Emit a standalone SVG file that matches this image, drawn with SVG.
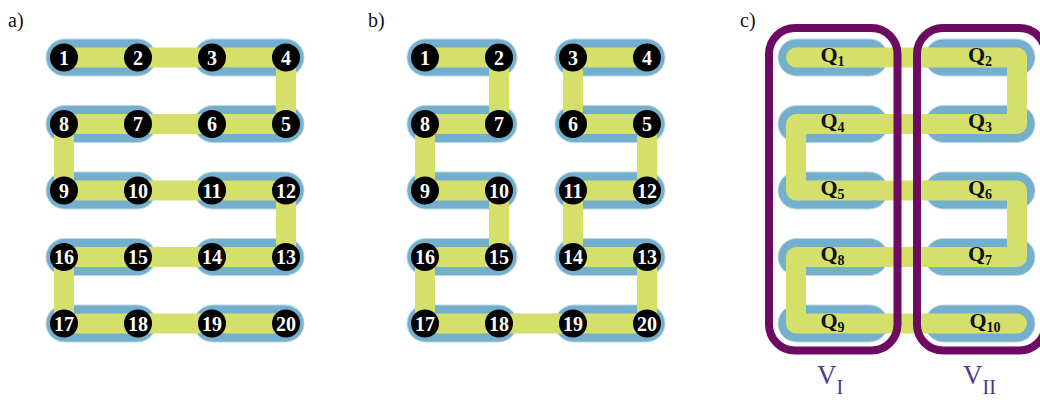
<svg xmlns="http://www.w3.org/2000/svg" width="1040" height="400" viewBox="0 0 1040 400">
<style>
.pill{fill:#75AFCE;stroke:#B9D7E6;stroke-width:1}
.path{fill:none;stroke:#D5E06A;stroke-width:20;stroke-linejoin:miter}
.pathc{fill:none;stroke:#D5E06A;stroke-width:20;stroke-linejoin:round;stroke-linecap:round}
.dot{fill:#000}
.num{font-family:"Liberation Serif",serif;font-weight:bold;font-size:20px;fill:#fff;text-anchor:middle}
.q{font-family:"Liberation Serif",serif;font-weight:bold;font-size:22px;fill:#111;text-anchor:middle}
.sub{font-size:14px}
.panel{font-family:"Liberation Serif",serif;font-size:20px;fill:#111}
.box{fill:none;stroke:#6D0A61;stroke-width:8}
.v{font-family:"Liberation Serif",serif;font-size:27px;fill:#4E3B92}
.vs{font-size:20px;fill:#55308A}
</style>
<defs>
<rect id="p" x="-18" y="-18.5" width="110" height="37" rx="18.5" class="pill"/>
<circle id="d" r="14" class="dot"/>
</defs>

<text class="panel" x="8" y="27">a)</text>
<text class="panel" x="368" y="27">b)</text>
<text class="panel" x="740" y="27">c)</text>

<!-- Panel a -->
<g id="panelA-pills">
<use href="#p" x="64" y="57.5"/><use href="#p" x="212" y="57.5"/>
<use href="#p" x="64" y="124"/><use href="#p" x="212" y="124"/>
<use href="#p" x="64" y="190.5"/><use href="#p" x="212" y="190.5"/>
<use href="#p" x="64" y="257"/><use href="#p" x="212" y="257"/>
<use href="#p" x="64" y="323.5"/><use href="#p" x="212" y="323.5"/>
</g>
<g id="connectors-a">
<path class="path" d="M64,57.5 H286 V124 H64 V190.5 H286 V257 H64 V323.5 H286"/>
</g>
<g id="nodes-a">
<g id="a1"><use href="#d" x="64" y="57.5"/><text class="num" x="64" y="64.5">1</text></g>
<g id="a2"><use href="#d" x="138" y="57.5"/><text class="num" x="138" y="64.5">2</text></g>
<g id="a3"><use href="#d" x="212" y="57.5"/><text class="num" x="212" y="64.5">3</text></g>
<g id="a4"><use href="#d" x="286" y="57.5"/><text class="num" x="286" y="64.5">4</text></g>
<g id="a8"><use href="#d" x="64" y="124"/><text class="num" x="64" y="131">8</text></g>
<g id="a7"><use href="#d" x="138" y="124"/><text class="num" x="138" y="131">7</text></g>
<g id="a6"><use href="#d" x="212" y="124"/><text class="num" x="212" y="131">6</text></g>
<g id="a5"><use href="#d" x="286" y="124"/><text class="num" x="286" y="131">5</text></g>
<g id="a9"><use href="#d" x="64" y="190.5"/><text class="num" x="64" y="197.5">9</text></g>
<g id="a10"><use href="#d" x="138" y="190.5"/><text class="num" x="138" y="197.5">10</text></g>
<g id="a11"><use href="#d" x="212" y="190.5"/><text class="num" x="212" y="197.5">11</text></g>
<g id="a12"><use href="#d" x="286" y="190.5"/><text class="num" x="286" y="197.5">12</text></g>
<g id="a16"><use href="#d" x="64" y="257"/><text class="num" x="64" y="264">16</text></g>
<g id="a15"><use href="#d" x="138" y="257"/><text class="num" x="138" y="264">15</text></g>
<g id="a14"><use href="#d" x="212" y="257"/><text class="num" x="212" y="264">14</text></g>
<g id="a13"><use href="#d" x="286" y="257"/><text class="num" x="286" y="264">13</text></g>
<g id="a17"><use href="#d" x="64" y="323.5"/><text class="num" x="64" y="330.5">17</text></g>
<g id="a18"><use href="#d" x="138" y="323.5"/><text class="num" x="138" y="330.5">18</text></g>
<g id="a19"><use href="#d" x="212" y="323.5"/><text class="num" x="212" y="330.5">19</text></g>
<g id="a20"><use href="#d" x="286" y="323.5"/><text class="num" x="286" y="330.5">20</text></g>
</g>

<!-- Panel b -->
<g id="panelB-pills">
<use href="#p" x="425" y="57.5"/><use href="#p" x="573" y="57.5"/>
<use href="#p" x="425" y="124"/><use href="#p" x="573" y="124"/>
<use href="#p" x="425" y="190.5"/><use href="#p" x="573" y="190.5"/>
<use href="#p" x="425" y="257"/><use href="#p" x="573" y="257"/>
<use href="#p" x="425" y="323.5"/><use href="#p" x="573" y="323.5"/>
</g>
<g id="connectors-b">
<path class="path" d="M425,57.5 H499 V124 H425 V190.5 H499 V257 H425 V323.5 H647 V257 H573 V190.5 H647 V124 H573 V57.5 H647"/>
</g>
<g id="nodes-b">
<g id="b1"><use href="#d" x="425" y="57.5"/><text class="num" x="425" y="64.5">1</text></g>
<g id="b2"><use href="#d" x="499" y="57.5"/><text class="num" x="499" y="64.5">2</text></g>
<g id="b3"><use href="#d" x="573" y="57.5"/><text class="num" x="573" y="64.5">3</text></g>
<g id="b4"><use href="#d" x="647" y="57.5"/><text class="num" x="647" y="64.5">4</text></g>
<g id="b8"><use href="#d" x="425" y="124"/><text class="num" x="425" y="131">8</text></g>
<g id="b7"><use href="#d" x="499" y="124"/><text class="num" x="499" y="131">7</text></g>
<g id="b6"><use href="#d" x="573" y="124"/><text class="num" x="573" y="131">6</text></g>
<g id="b5"><use href="#d" x="647" y="124"/><text class="num" x="647" y="131">5</text></g>
<g id="b9"><use href="#d" x="425" y="190.5"/><text class="num" x="425" y="197.5">9</text></g>
<g id="b10"><use href="#d" x="499" y="190.5"/><text class="num" x="499" y="197.5">10</text></g>
<g id="b11"><use href="#d" x="573" y="190.5"/><text class="num" x="573" y="197.5">11</text></g>
<g id="b12"><use href="#d" x="647" y="190.5"/><text class="num" x="647" y="197.5">12</text></g>
<g id="b16"><use href="#d" x="425" y="257"/><text class="num" x="425" y="264">16</text></g>
<g id="b15"><use href="#d" x="499" y="257"/><text class="num" x="499" y="264">15</text></g>
<g id="b14"><use href="#d" x="573" y="257"/><text class="num" x="573" y="264">14</text></g>
<g id="b13"><use href="#d" x="647" y="257"/><text class="num" x="647" y="264">13</text></g>
<g id="b17"><use href="#d" x="425" y="323.5"/><text class="num" x="425" y="330.5">17</text></g>
<g id="b18"><use href="#d" x="499" y="323.5"/><text class="num" x="499" y="330.5">18</text></g>
<g id="b19"><use href="#d" x="573" y="323.5"/><text class="num" x="573" y="330.5">19</text></g>
<g id="b20"><use href="#d" x="647" y="323.5"/><text class="num" x="647" y="330.5">20</text></g>
</g>

<!-- Panel c -->
<g id="panelC-pills">
<use href="#p" x="796" y="57.5"/><use href="#p" x="943" y="57.5"/>
<use href="#p" x="796" y="124"/><use href="#p" x="943" y="124"/>
<use href="#p" x="796" y="190.5"/><use href="#p" x="943" y="190.5"/>
<use href="#p" x="796" y="257"/><use href="#p" x="943" y="257"/>
<use href="#p" x="796" y="323.5"/><use href="#p" x="943" y="323.5"/>
</g>
<g id="connectors-c">
<path class="pathc" d="M796,57.5 H1017 V124 H796 V190.5 H1017 V257 H796 V323.5 H1017"/>
</g>
<g id="nodes-c">
<g id="Q1"><text class="q" x="832.5" y="61.5">Q<tspan class="sub" dy="4">1</tspan></text></g>
<g id="Q2"><text class="q" x="980" y="61.5">Q<tspan class="sub" dy="4">2</tspan></text></g>
<g id="Q4"><text class="q" x="832.5" y="128">Q<tspan class="sub" dy="4">4</tspan></text></g>
<g id="Q3"><text class="q" x="980" y="128">Q<tspan class="sub" dy="4">3</tspan></text></g>
<g id="Q5"><text class="q" x="832.5" y="194.5">Q<tspan class="sub" dy="4">5</tspan></text></g>
<g id="Q6"><text class="q" x="980" y="194.5">Q<tspan class="sub" dy="4">6</tspan></text></g>
<g id="Q8"><text class="q" x="832.5" y="261">Q<tspan class="sub" dy="4">8</tspan></text></g>
<g id="Q7"><text class="q" x="980" y="261">Q<tspan class="sub" dy="4">7</tspan></text></g>
<g id="Q9"><text class="q" x="832.5" y="327.5">Q<tspan class="sub" dy="4">9</tspan></text></g>
<g id="Q10"><text class="q" x="985" y="327.5">Q<tspan class="sub" dy="4">10</tspan></text></g>
</g>
<g id="VI">
<rect class="box" x="769" y="28" width="128.5" height="322.5" rx="26"/>
<text class="v" x="817" y="384">V<tspan class="vs" dy="10">I</tspan></text>
</g>
<g id="VII">
<rect class="box" x="917" y="28" width="128.5" height="322.5" rx="26"/>
<text class="v" x="963" y="384">V<tspan class="vs" dy="10">II</tspan></text>
</g>
</svg>
